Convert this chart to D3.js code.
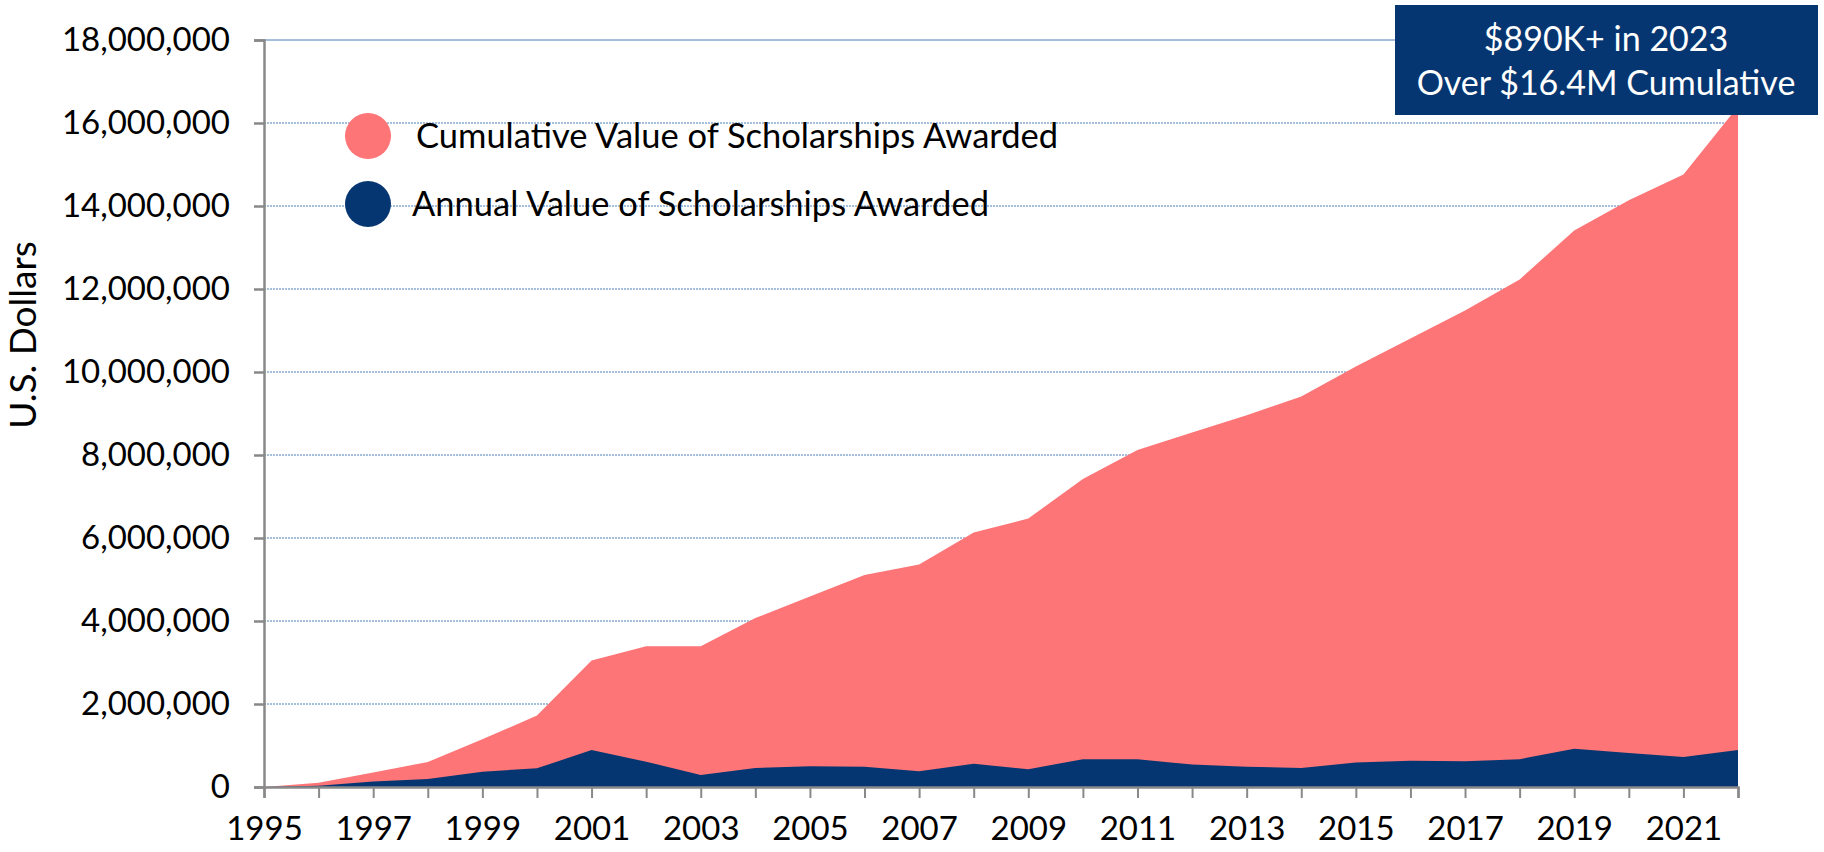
<!DOCTYPE html>
<html>
<head>
<meta charset="utf-8">
<script src="https://cdn.jsdelivr.net/npm/d3@7"></script>
<style>
  body { margin: 0; background: #fff; }
  svg text { font-family: Lato, "Open Sans", sans-serif; fill: #000; }
</style>
</head>
<body>
<svg id="drawing_region"></svg>
<script>
// data
const years = [1995, 1996, 1997, 1998, 1999, 2000, 2001, 2002, 2003, 2004,
               2005, 2006, 2007, 2008, 2009, 2010, 2011, 2012, 2013, 2014,
               2015, 2016, 2017, 2018, 2019, 2020, 2021, 2022];
const cumulative = [0, 100000, 350000, 600000, 1150000, 1720000, 3050000, 3390000, 3390000, 4070000,
                    4590000, 5110000, 5360000, 6130000, 6470000, 7420000, 8120000, 8540000, 8960000, 9410000,
                    10130000, 10810000, 11480000, 12230000, 13410000, 14140000, 14760000, 16400000];
const annual = [0, 30000, 130000, 190000, 370000, 450000, 890000, 610000, 290000, 460000,
                500000, 490000, 380000, 560000, 430000, 670000, 670000, 540000, 490000, 460000,
                590000, 630000, 620000, 670000, 920000, 820000, 720000, 890000];
const yTicks = [0, 2000000, 4000000, 6000000, 8000000, 10000000, 12000000, 14000000, 16000000, 18000000];
const legendLabels = ["Cumulative Value of Scholarships Awarded", "Annual Value of Scholarships Awarded"];
const calloutLines = ["$890K+ in 2023", "Over $16.4M Cumulative"];

const config = {
    width: 1824,
    height: 852,
    margin: {top: 40, right: 86, bottom: 65, left: 264}
};

const pink = "#fd7577";
const navy = "#063671";

const svg = d3.select('#drawing_region')
    .attr('width', config.width)
    .attr('height', config.height);

const inner_width = config.width - config.margin.left - config.margin.right;
const inner_height = config.height - config.margin.top - config.margin.bottom;

const chart = svg.append('g')
    .attr('transform', `translate(${config.margin.left}, ${config.margin.top})`);

const x = d3.scaleLinear()
    .domain([years[0], years[years.length - 1]])
    .range([0, inner_width]);

const y = d3.scaleLinear()
    .domain([0, 18000000])
    .range([inner_height, 0]);

// grid lines
chart.append('g').selectAll('line')
    .data(yTicks.filter(d => d > 0))
    .join('line')
    .attr('x1', 0).attr('x2', inner_width)
    .attr('y1', d => y(d)).attr('y2', d => y(d))
    .attr('stroke', '#4a7ebb')
    .attr('stroke-width', 1)
    .attr('stroke-dasharray', d => d === 18000000 ? null : '2,1');

// areas
const cumData = years.map((yr, i) => ({year: yr, v: cumulative[i]}));
const annData = years.map((yr, i) => ({year: yr, v: annual[i]}));

const area = d3.area()
    .x(d => x(d.year))
    .y0(y(0))
    .y1(d => y(d.v));

chart.append('path')
    .datum(cumData)
    .attr('d', area)
    .attr('fill', pink);

chart.append('path')
    .datum(annData)
    .attr('d', area)
    .attr('fill', navy);

// axes
const yaxis = d3.axisLeft(y)
    .tickValues(yTicks)
    .tickFormat(d3.format(','))
    .tickSize(10)
    .tickPadding(24);

const yaxis_group = chart.append('g').call(yaxis);
yaxis_group.select('.domain').attr('stroke', '#898989').attr('stroke-width', 2.5);
yaxis_group.selectAll('.tick line').attr('stroke', '#898989').attr('stroke-width', 2.5);
yaxis_group.selectAll('.tick text')
    .attr('font-size', 33)
    .attr('font-family', 'Lato, sans-serif');

const xaxis = d3.axisBottom(x)
    .tickValues(years)
    .tickFormat(d => (d % 2 === 1 ? d : ''))
    .tickSize(11)
    .tickPadding(19);

const xaxis_group = chart.append('g')
    .attr('transform', `translate(0, ${inner_height})`)
    .call(xaxis);
xaxis_group.select('.domain').attr('stroke', '#898989').attr('stroke-width', 2.5);
xaxis_group.selectAll('.tick line').attr('stroke', '#898989').attr('stroke-width', 2);
xaxis_group.selectAll('.tick text')
    .attr('font-size', 33)
    .attr('font-family', 'Lato, sans-serif');

// y axis title
svg.append('text')
    .attr('transform', 'translate(36, 335) rotate(-90)')
    .attr('text-anchor', 'middle')
    .attr('font-size', 37)
    .text('U.S. Dollars');

// legend
const legend = svg.append('g');
const legendColors = [pink, navy];
const legendY = [136, 204];
const legendTextX = [416, 412];
legendLabels.forEach((lab, i) => {
    legend.append('circle')
        .attr('cx', 368).attr('cy', legendY[i]).attr('r', 23)
        .attr('fill', legendColors[i]);
    legend.append('text')
        .attr('x', legendTextX[i]).attr('y', legendY[i])
        .attr('dy', '0.35em')
        .attr('font-size', 34.5)
        .text(lab);
});

// callout box
const box = svg.append('g');
box.append('rect')
    .attr('x', 1395).attr('y', 5)
    .attr('width', 423).attr('height', 110)
    .attr('fill', navy);
calloutLines.forEach((t, i) => {
    box.append('text')
        .attr('x', 1606).attr('y', 51 + i * 44)
        .attr('text-anchor', 'middle')
        .attr('font-size', 34)
        .style('fill', '#fff')
        .text(t);
});
</script>
</body>
</html>
